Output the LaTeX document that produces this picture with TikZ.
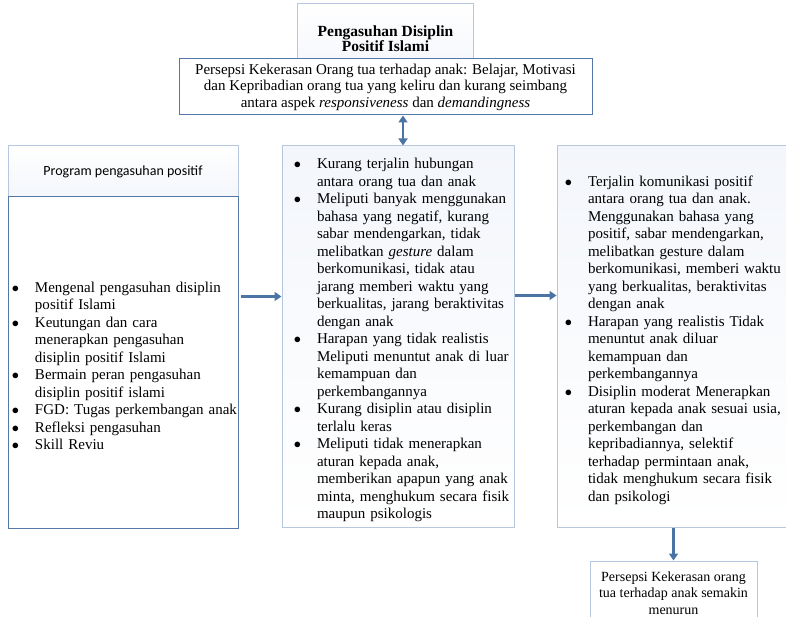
\documentclass[tikz,border=0pt]{standalone}
\usepackage{fontspec}
\setmainfont{Liberation Serif}
\newfontfamily\calibri{Carlito}
\usepackage{enumitem}
\usetikzlibrary{positioning,arrows.meta}

\definecolor{garisMuda}{HTML}{B6C7DF}
\definecolor{garisTua}{HTML}{5578A8}
\definecolor{isiMuda}{HTML}{F3F6FB}
\definecolor{panah}{HTML}{4A74A4}

\setlist[itemize]{label=$\bullet$, leftmargin=20pt, labelsep=16pt,
  itemsep=0pt, topsep=0pt, parsep=0pt, partopsep=0pt, rightmargin=-14pt}

\tikzset{
  kotak/.style={draw=garisMuda, line width=1pt, fill=white, inner ysep=0pt},
  isi/.style={font=\fontsize{15}{17.5}\selectfont, align=left},
  panahku/.style={draw=panah, line width=2.6pt, -{Triangle[length=7pt,width=9pt]}},
  panahdua/.style={draw=panah, line width=2.6pt, {Triangle[length=7pt,width=9pt]}-{Triangle[length=7pt,width=9pt]}}
}

\begin{document}
\begin{tikzpicture}[x=1pt,y=-1pt]
  \path[use as bounding box, clip] (0,0) rectangle (786,617);

  % judul dan persepsi
  \node[kotak, top color=white, bottom color=isiMuda, minimum width=176pt, minimum height=70pt,
        font=\bfseries\fontsize{15.5}{15}\selectfont, align=center]
        (judul) at (385.5,39) {Pengasuhan Disiplin\\Positif Islami};
  \node[kotak, draw=garisTua, minimum width=413pt, minimum height=56pt,
        font=\fontsize{15}{16.5}\selectfont, align=center]
        (persepsi) at (385.5,87) {Persepsi Kekerasan Orang tua terhadap anak: Belajar, Motivasi\\
        dan Kepribadian orang tua yang keliru dan kurang seimbang\\
        antara aspek \textit{responsiveness} dan \textit{demandingness}};

  % program
  \node[kotak, top color=white, bottom color=isiMuda, minimum width=230pt, minimum height=51pt,
        font=\calibri\fontsize{14}{16}\selectfont]
        (programjudul) at (123,171.5) {Program pengasuhan positif};
  \node[kotak, draw=garisTua, isi, text width=216pt, inner xsep=7pt, minimum height=331pt]
        (program) at (123,362.5) {%
    \begin{itemize}
      \item Mengenal pengasuhan disiplin\\ positif Islami
      \item Keutungan dan cara\\ menerapkan pengasuhan\\ disiplin positif Islami
      \item Bermain peran pengasuhan\\ disiplin positif islami
      \item FGD: Tugas perkembangan anak
      \item Refleksi pengasuhan
      \item Skill Reviu
    \end{itemize}};

  % pengasuhan negatif
  \node[kotak, top color=isiMuda, bottom color=white, isi, text width=202pt, inner xsep=15pt,
        minimum height=381pt]
        (negatif) at (398,336.5) {%
    \begin{itemize}
      \item Kurang terjalin hubungan\\ antara orang tua dan anak
      \item Meliputi banyak menggunakan\\ bahasa yang negatif, kurang\\ sabar mendengarkan, tidak\\
        melibatkan \textit{gesture} dalam\\ berkomunikasi, tidak atau\\ jarang memberi waktu yang\\
        berkualitas, jarang beraktivitas\\ dengan anak
      \item Harapan yang tidak realistis\\ Meliputi menuntut anak di luar\\ kemampuan dan\\ perkembangannya
      \item Kurang disiplin atau disiplin\\ terlalu keras
      \item Meliputi tidak menerapkan\\ aturan kepada anak,\\ memberikan apapun yang anak\\
        minta, menghukum secara fisik\\ maupun psikologis
    \end{itemize}};

  % pengasuhan positif
  \node[kotak, top color=isiMuda, bottom color=white, isi, text width=210pt, inner xsep=11pt,
        minimum height=381pt]
        (positif) at (673,336.5) {%
    \begin{itemize}
      \item Terjalin komunikasi positif\\ antara orang tua dan anak.\\ Menggunakan bahasa yang\\
        positif, sabar mendengarkan,\\ melibatkan gesture dalam\\ berkomunikasi, memberi waktu\\
        yang berkualitas, beraktivitas\\ dengan anak
      \item Harapan yang realistis Tidak\\ menuntut anak diluar\\ kemampuan dan\\ perkembangannya
      \item Disiplin moderat Menerapkan\\ aturan kepada anak sesuai usia,\\ perkembangan dan\\
        kepribadiannya, selektif\\ terhadap permintaan anak,\\ tidak menghukum secara fisik\\
        dan psikologi
    \end{itemize}};

  % hasil
  \node[kotak, minimum width=167pt, minimum height=64pt, align=center,
        font=\fontsize{14}{16.3}\selectfont]
        (hasil) at (673.5,593) {Persepsi Kekerasan orang\\ tua terhadap anak semakin\\ menurun};

  % panah
  \coordinate (masuk) at ([yshift=40pt]negatif.west);
  \coordinate (keluar) at ([yshift=41pt]negatif.east);
  \coordinate (atas) at ([xshift=5pt]negatif.north);
  \draw[panahdua] (atas |- persepsi.south) -- (atas);
  \draw[panahku] ([xshift=2pt]program.east |- masuk) -- (masuk);
  \draw[panahku] (keluar) -- (keluar -| positif.west);
  \draw[panahku] (positif.south -| hasil.north) -- (hasil.north);
\end{tikzpicture}
\end{document}
